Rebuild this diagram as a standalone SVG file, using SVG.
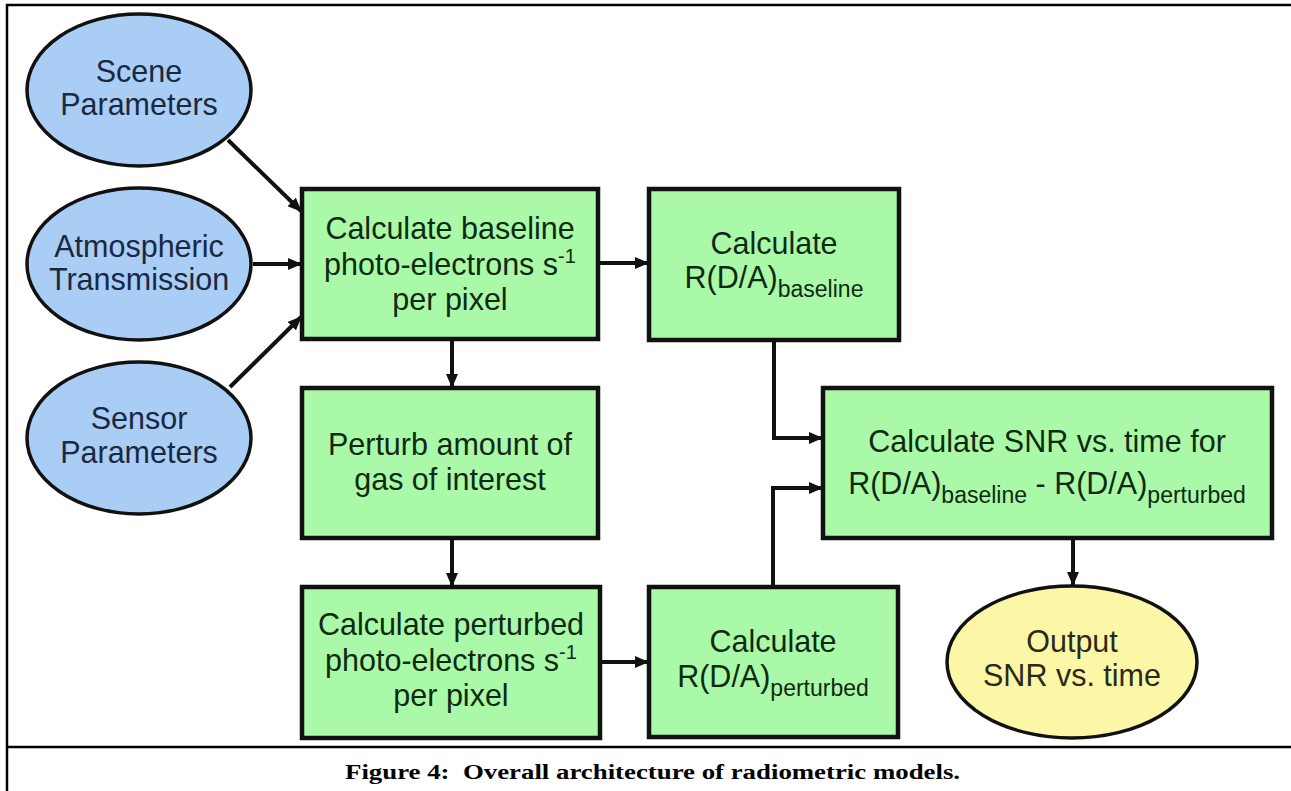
<svg xmlns="http://www.w3.org/2000/svg" width="1291" height="791" viewBox="0 0 1291 791">
<style>
.frame{stroke:#000;stroke-width:2.5;fill:none}
.ell-blue{fill:#a9cdf5;stroke:#111;stroke-width:3.5}
.ell-yellow{fill:#fbf7a6;stroke:#111;stroke-width:3.5}
.box{fill:#a9f9a8;stroke:#111;stroke-width:4.5}
.conn{stroke:#111;stroke-width:4;fill:none}
.t{font-family:"Liberation Sans",Arial,sans-serif;font-size:30.5px;text-anchor:middle}
.tb{fill:#1a2840}
.tg{fill:#0f2a10}
.ty{fill:#2a2a18}
.sub{font-size:23px}
.sup{font-size:20px}
.cap{font-family:"Liberation Serif","Times New Roman",serif;font-weight:bold;font-size:22px;fill:#000;white-space:pre}
</style>
<defs>
<marker id="arr" markerUnits="userSpaceOnUse" markerWidth="14" markerHeight="12" refX="13" refY="6" orient="auto">
<path d="M0,0 L14,6 L0,12 z" fill="#111"/>
</marker>
</defs>
<rect width="1291" height="791" fill="#fff"/>
<g id="frame">
<line class="frame" x1="6" y1="5" x2="1291" y2="5"/>
<line class="frame" x1="7" y1="4" x2="7" y2="791"/>
<line class="frame" x1="7" y1="747" x2="1291" y2="747"/>
</g>
<g id="connectors">
<line class="conn" x1="228" y1="140" x2="301" y2="211" marker-end="url(#arr)"/>
<line class="conn" x1="253" y1="264" x2="301" y2="264" marker-end="url(#arr)"/>
<line class="conn" x1="230" y1="387" x2="301" y2="317" marker-end="url(#arr)"/>
<line class="conn" x1="598" y1="263" x2="648" y2="263" marker-end="url(#arr)"/>
<line class="conn" x1="452" y1="339" x2="452" y2="387" marker-end="url(#arr)"/>
<line class="conn" x1="452" y1="538" x2="452" y2="586" marker-end="url(#arr)"/>
<line class="conn" x1="600" y1="662" x2="648" y2="662" marker-end="url(#arr)"/>
<polyline class="conn" points="774,340 774,438 822,438" marker-end="url(#arr)"/>
<polyline class="conn" points="773,587 773,488 822,488" marker-end="url(#arr)"/>
<line class="conn" x1="1073" y1="538" x2="1073" y2="585" marker-end="url(#arr)"/>
</g>
<g id="scene">
<ellipse class="ell-blue" cx="139" cy="90" rx="112" ry="76"/>
<text class="t tb" x="139" y="82">Scene</text>
<text class="t tb" x="139" y="115">Parameters</text>
</g>
<g id="atmos">
<ellipse class="ell-blue" cx="139" cy="264" rx="112" ry="76"/>
<text class="t tb" x="139" y="257">Atmospheric</text>
<text class="t tb" x="139" y="290">Transmission</text>
</g>
<g id="sensor">
<ellipse class="ell-blue" cx="139" cy="438" rx="112" ry="76"/>
<text class="t tb" x="139" y="429">Sensor</text>
<text class="t tb" x="139" y="463">Parameters</text>
</g>
<g id="baseline-pe">
<rect class="box" x="302" y="189" width="296" height="150"/>
<text class="t tg" x="450" y="239">Calculate baseline</text>
<text class="t tg" x="450" y="275">photo-electrons s<tspan class="sup" dy="-12">-1</tspan></text>
<text class="t tg" x="450" y="310">per pixel</text>
</g>
<g id="rda-baseline">
<rect class="box" x="649" y="189" width="250" height="151"/>
<text class="t tg" x="774" y="254">Calculate</text>
<text class="t tg" x="774" y="288">R(D/A)<tspan class="sub" dy="9">baseline</tspan></text>
</g>
<g id="perturb">
<rect class="box" x="302" y="388" width="296" height="150"/>
<text class="t tg" x="450" y="455">Perturb amount of</text>
<text class="t tg" x="450" y="490">gas of interest</text>
</g>
<g id="perturbed-pe">
<rect class="box" x="302" y="587" width="298" height="151"/>
<text class="t tg" x="451" y="635">Calculate perturbed</text>
<text class="t tg" x="451" y="671">photo-electrons s<tspan class="sup" dy="-12">-1</tspan></text>
<text class="t tg" x="451" y="706">per pixel</text>
</g>
<g id="rda-perturbed">
<rect class="box" x="649" y="587" width="249" height="150"/>
<text class="t tg" x="773" y="652">Calculate</text>
<text class="t tg" x="773" y="687">R(D/A)<tspan class="sub" dy="9">perturbed</tspan></text>
</g>
<g id="snr">
<rect class="box" x="823" y="388" width="449" height="150"/>
<text class="t tg" x="1047" y="452">Calculate SNR vs. time for</text>
<text class="t tg" x="1047" y="494">R(D/A)<tspan class="sub" dy="9">baseline</tspan><tspan dy="-9"> - R(D/A)</tspan><tspan class="sub" dy="9">perturbed</tspan></text>
</g>
<g id="output">
<ellipse class="ell-yellow" cx="1072" cy="662" rx="125" ry="76"/>
<text class="t ty" x="1072" y="652">Output</text>
<text class="t ty" x="1072" y="686">SNR vs. time</text>
</g>
<g id="caption">
<text class="cap" transform="translate(345,779) scale(1.22,1)" x="0" y="0" xml:space="preserve">Figure 4:  Overall architecture of radiometric models.</text>
</g>
</svg>
